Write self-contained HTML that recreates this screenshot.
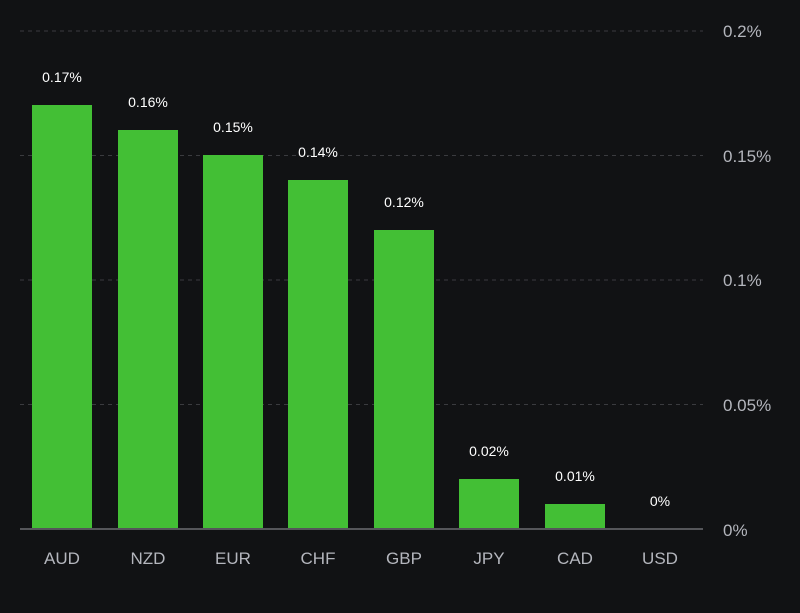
<!DOCTYPE html>
<html><head><style>
body{margin:0;background:#111214;}
svg{display:block;font-family:"Liberation Sans",sans-serif;}
</style></head><body>
<svg width="800" height="613" viewBox="0 0 800 613">
<rect width="800" height="613" fill="#111214"/>
<g stroke="#3a3b3f" stroke-width="1" stroke-dasharray="4,4">
<line x1="20" y1="31" x2="703" y2="31"/>
<line x1="20" y1="155.5" x2="703" y2="155.5"/>
<line x1="20" y1="280" x2="703" y2="280"/>
<line x1="20" y1="404.5" x2="703" y2="404.5"/>
</g>
<g fill="#43bf35">
<rect x="32" y="105" width="60" height="424"/>
<rect x="118" y="130" width="60" height="399"/>
<rect x="203" y="155" width="60" height="374"/>
<rect x="288" y="180" width="60" height="349"/>
<rect x="374" y="230" width="60" height="299"/>
<rect x="459" y="479" width="60" height="50"/>
<rect x="545" y="504" width="60" height="25"/>
</g>
<line x1="20" y1="529" x2="703" y2="529" stroke="#55565a" stroke-width="2"/>
<g fill="#ffffff" font-size="14" text-anchor="middle">
<text x="62" y="82">0.17%</text>
<text x="148" y="107">0.16%</text>
<text x="233" y="132">0.15%</text>
<text x="318" y="157">0.14%</text>
<text x="404" y="207">0.12%</text>
<text x="489" y="456">0.02%</text>
<text x="575" y="481">0.01%</text>
<text x="660" y="506">0%</text>
</g>
<g fill="#b4b6bd" font-size="17" text-anchor="middle">
<text x="62" y="564">AUD</text>
<text x="148" y="564">NZD</text>
<text x="233" y="564">EUR</text>
<text x="318" y="564">CHF</text>
<text x="404" y="564">GBP</text>
<text x="489" y="564">JPY</text>
<text x="575" y="564">CAD</text>
<text x="660" y="564">USD</text>
</g>
<g fill="#b4b6bd" font-size="17">
<text x="723" y="37">0.2%</text>
<text x="723" y="162">0.15%</text>
<text x="723" y="286">0.1%</text>
<text x="723" y="411">0.05%</text>
<text x="723" y="536">0%</text>
</g>
</svg>
</body></html>
